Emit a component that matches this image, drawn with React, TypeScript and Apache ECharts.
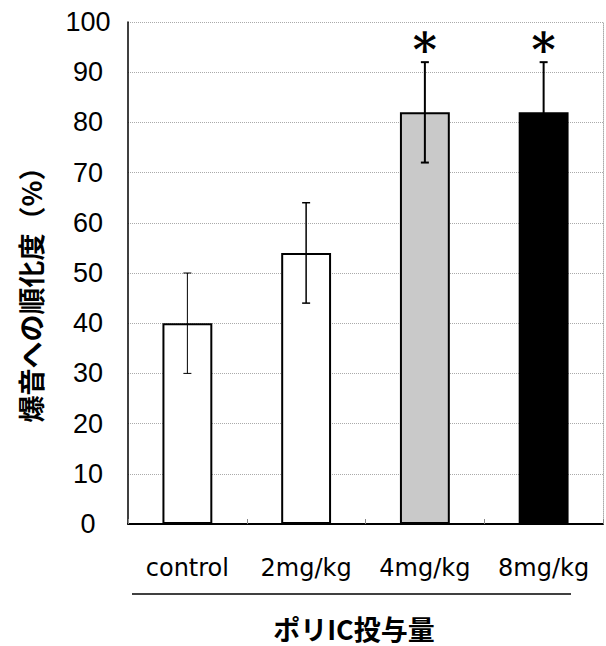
import React, { useEffect, useRef } from "react";
import * as echarts from "echarts";

const categories = ["control", "2mg/kg", "4mg/kg", "8mg/kg"];
const means = [40, 54, 82, 82];
const errLow = [30, 44, 72, 72];
const errHigh = [50, 64, 92, 92];
const marks = ["", "", "*", "*"];
const markLevel = 94.5;
const yTicks = [0, 10, 20, 30, 40, 50, 60, 70, 80, 90, 100];
const barColors = ["#ffffff", "#ffffff", "#c9c9c9", "#000000"];
const errWidths = [1, 1.5, 2, 2];

export default function App() {
  const ref = useRef<HTMLDivElement>(null);
  useEffect(() => {
    document.body.style.margin = "0";
    const chart = echarts.init(ref.current!, null, { renderer: "svg" });
    chart.setOption({
      animation: false,
      grid: { left: 128, right: 3, top: 22, bottom: 122 },
      xAxis: {
        type: "category",
        data: categories,
        axisLine: { lineStyle: { color: "#000", width: 2 } },
        axisTick: { show: true, inside: true, length: 5, lineStyle: { color: "#888" } },
        axisLabel: {
          color: "#000",
          fontFamily: "DejaVu Sans",
          fontSize: 24,
          margin: 32,
          interval: 0,
          hideOverlap: false,
        },
      },
      yAxis: [
        {
          type: "value",
          min: yTicks[0],
          max: yTicks[yTicks.length - 1],
          interval: 10,
          axisLine: { show: true, lineStyle: { color: "#000", width: 1.5 } },
          axisTick: { show: false },
          splitLine: { lineStyle: { color: "#aaa", type: "dotted", width: 1 } },
          axisLabel: {
            color: "#000",
            fontFamily: "Liberation Sans",
            fontSize: 27,
            align: "center",
            margin: 40,
            padding: [8, 0, 0, 0],
          },
        },
        {
          type: "value",
          position: "right",
          min: 0,
          max: 100,
          interval: 10,
          axisLine: { show: true, lineStyle: { color: "#aaa", type: "dotted", width: 1 } },
          axisTick: { show: false },
          axisLabel: { show: false },
          splitLine: { show: false },
        },
      ],
      series: [
        {
          type: "bar",
          barWidth: "42%",
          data: means.map((v, i) => ({
            value: v,
            itemStyle: { color: barColors[i], borderColor: "#000", borderWidth: 2 },
          })),
        },
        {
          type: "custom",
          data: categories.map((_, i) => [i, errLow[i], errHigh[i]]),
          z: 5,
          renderItem: (params: any, api: any) => {
            const i = api.value(0);
            const lo = api.coord([i, api.value(1)]);
            const hi = api.coord([i, api.value(2)]);
            const w = 4;
            const lw = errWidths[params.dataIndex];
            const style = { stroke: "#000", lineWidth: lw };
            return {
              type: "group",
              children: [
                { type: "line", shape: { x1: lo[0], y1: lo[1], x2: hi[0], y2: hi[1] }, style },
                { type: "line", shape: { x1: lo[0] - w, y1: lo[1], x2: lo[0] + w, y2: lo[1] }, style },
                { type: "line", shape: { x1: hi[0] - w, y1: hi[1], x2: hi[0] + w, y2: hi[1] }, style },
              ],
            };
          },
        },
        {
          type: "custom",
          data: categories.map((_, i) => [i, markLevel]),
          z: 6,
          renderItem: (params: any, api: any) => {
            const p = api.coord([api.value(0), api.value(1)]);
            return {
              type: "text",
              x: p[0],
              y: p[1],
              style: {
                text: marks[params.dataIndex],
                fill: "#000",
                fontFamily: "DejaVu Serif",
                fontWeight: "bold",
                fontSize: 46,
                align: "center",
                verticalAlign: "middle",
              },
            };
          },
        },
      ],
      graphic: [
        {
          type: "text",
          x: 30,
          y: 288,
          rotation: Math.PI / 2,
          style: {
            text: "爆音への順化度（%）",
            fill: "#000",
            fontFamily: "Noto Sans CJK JP",
            fontWeight: "bold",
            fontSize: 27,
            align: "center",
            verticalAlign: "middle",
          },
        },
        {
          type: "line",
          shape: { x1: 132, y1: 594, x2: 571, y2: 594 },
          style: { stroke: "#000", lineWidth: 1.5 },
        },
        {
          type: "text",
          x: 354,
          y: 628,
          style: {
            text: "ポリIC投与量",
            fill: "#000",
            fontFamily: "Noto Sans CJK JP",
            fontWeight: "bold",
            fontSize: 27,
            align: "center",
            verticalAlign: "middle",
          },
        },
      ],
    });
    return () => chart.dispose();
  }, []);
  return <div ref={ref} style={{ width: 606, height: 646 }} />;
}
